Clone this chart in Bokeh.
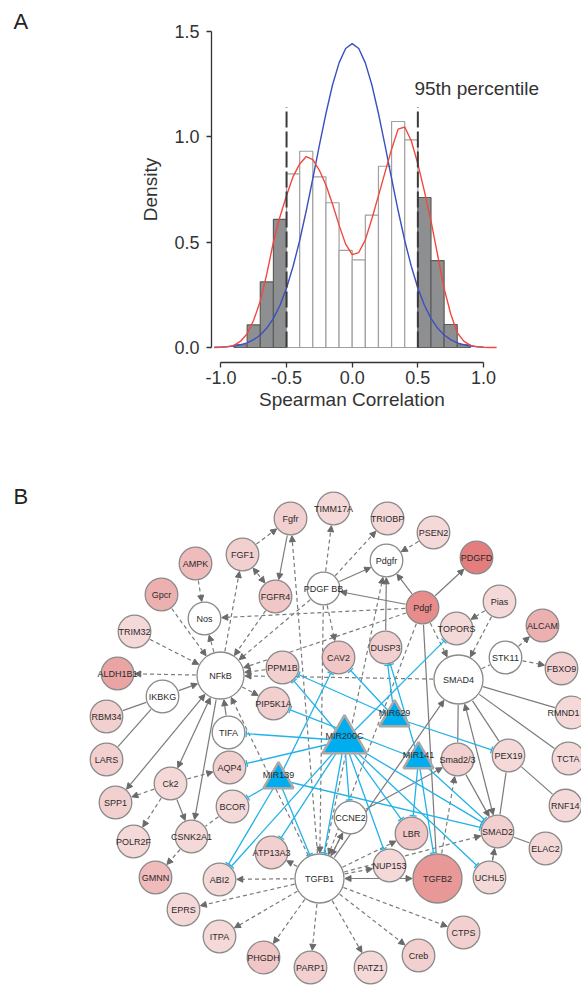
import math
from bokeh.plotting import figure
from bokeh.layouts import column
from bokeh.models import (Range1d, FixedTicker, PrintfTickFormatter, Arrow,
                          NormalHead, TeeHead, ColumnDataSource, LinearColorMapper)
from bokeh.core.properties import value
from bokeh.embed import file_html
from bokeh.resources import INLINE

FONT = "Liberation Sans"

# ---------------- Panel A data ----------------
bin_edges = [-0.9, -0.8, -0.7, -0.6, -0.5, -0.4, -0.3, -0.2, -0.1, 0.0,
             0.1, 0.2, 0.3, 0.4, 0.5, 0.6, 0.7, 0.8, 0.9]
bin_density = [0.013, 0.107, 0.311, 0.607, 0.823, 0.930, 0.809, 0.686, 0.460,
               0.415, 0.627, 0.859, 1.071, 0.984, 0.711, 0.412, 0.109, 0.013]
cutoffs = [-0.5, 0.5]
cutoff_top = 1.14

normal_x = [-1.05, -1.0, -0.95, -0.9, -0.85, -0.8, -0.75, -0.7, -0.65, -0.6, -0.55,
            -0.5, -0.45, -0.4, -0.35, -0.3, -0.25, -0.2, -0.15, -0.1, -0.05, 0.0,
            0.05, 0.1, 0.15, 0.2, 0.25, 0.3, 0.35, 0.4, 0.45, 0.5, 0.55, 0.6, 0.65,
            0.7, 0.75, 0.8, 0.85, 0.9, 0.95, 1.0]
normal_y = [0.001, 0.002, 0.004, 0.007, 0.013, 0.022, 0.037, 0.059, 0.092, 0.138, 0.200,
            0.282, 0.385, 0.507, 0.648, 0.801, 0.958, 1.109, 1.244, 1.349, 1.417, 1.440,
            1.417, 1.349, 1.244, 1.109, 0.958, 0.801, 0.648, 0.507, 0.385, 0.282, 0.200,
            0.138, 0.092, 0.059, 0.037, 0.022, 0.013, 0.007, 0.004, 0.002]

kde_x = [-1.05, -1.0, -0.95, -0.9, -0.85, -0.8, -0.75, -0.7, -0.65, -0.6, -0.55,
         -0.5, -0.45, -0.4, -0.35, -0.3, -0.25, -0.2, -0.15, -0.1, -0.05, 0.0,
         0.05, 0.1, 0.15, 0.2, 0.25, 0.3, 0.35, 0.4, 0.45, 0.5, 0.55, 0.6, 0.65,
         0.7, 0.75, 0.8, 0.85, 0.9, 0.95, 1.0, 1.05, 1.1]
kde_y = [0.0, 0.001, 0.003, 0.010, 0.030, 0.065, 0.130, 0.220, 0.350, 0.500, 0.620,
         0.720, 0.810, 0.870, 0.905, 0.890, 0.840, 0.770, 0.680, 0.580, 0.490, 0.440,
         0.450, 0.510, 0.610, 0.720, 0.830, 0.940, 1.035, 1.045, 0.980, 0.870, 0.740,
         0.600, 0.440, 0.280, 0.160, 0.070, 0.030, 0.010, 0.003, 0.001, 0.0, 0.0]

x_ticks = [-1.0, -0.5, 0.0, 0.5, 1.0]
y_ticks = [0.0, 0.5, 1.0, 1.5]

# ---------------- Panel B data (network) ----------------
node_names = ["Fgfr", "TIMM17A", "TRIOBP", "PSEN2", "PDGFD", "FGF1", "AMPK", "Pdgfr",
              "PDGF BB", "FGFR4", "Gpcr", "Pdgf", "Pias", "Nos", "TRIM32", "TOPORS",
              "ALCAM", "CAV2", "DUSP3", "STK11", "FBXO9", "PPM1B", "NFkB", "ALDH1B1",
              "SMAD4", "IKBKG", "PIP5K1A", "RMND1", "RBM34", "TIFA", "LARS", "Smad2/3",
              "PEX19", "TCTA", "AQP4", "Ck2", "SPP1", "BCOR", "RNF14", "CCNE2", "SMAD2",
              "LBR", "CSNK2A1", "POLR2F", "ELAC2", "ATP13A3", "NUP153", "GMNN", "ABI2",
              "TGFB1", "TGFB2", "UCHL5", "EPRS", "CTPS", "ITPA", "Creb", "PHGDH",
              "PATZ1", "PARP1"]
# layout positions of the graph (pixel-like layout units)
node_x = [290, 333, 387, 433, 476, 242, 195, 386, 323, 275, 161, 422, 499, 204, 134,
          456, 542, 338, 385, 505, 561, 282, 220, 117, 458, 162, 273, 571, 106, 228,
          106, 457, 508, 568, 229, 170, 115, 232, 565, 350, 497, 411, 191, 133, 545,
          271, 389, 155, 219, 319, 437, 489, 183, 463, 219, 418, 263, 370, 310]
node_y = [518, 508, 518, 532, 557, 554, 563, 560, 588, 596, 594, 607, 601, 618, 631,
          628, 625, 657, 647, 657, 668, 667, 675, 673, 679, 696, 703, 712, 716, 732,
          759, 759, 755, 758, 767, 783, 802, 806, 805, 817, 831, 833, 836, 841, 848,
          852, 865, 877, 879, 878, 878, 877, 909, 932, 936, 955, 957, 967, 967]
# correlation strength (None = no value, drawn white)
node_value = [0.35, 0.2, 0.25, 0.2, 0.95, 0.3, 0.5, None,
              None, 0.38, 0.55, 0.85, 0.2, None, 0.25, 0.25,
              0.55, 0.4, 0.3, None, 0.3, 0.35, None, 0.65,
              None, None, 0.3, 0.25, 0.3, None, 0.3, 0.3,
              0.25, 0.25, 0.3, 0.2, 0.3, 0.25, 0.25, None, 0.35,
              0.45, 0.25, 0.2, 0.25, 0.3, 0.2, 0.5, 0.2,
              None, 0.75, 0.2, 0.25, 0.3, 0.2, 0.3, 0.45,
              0.2, 0.35]
hub_nodes = ["NFkB", "SMAD4", "TGFB1", "TGFB2"]

mir_names = ["MIR200C", "MIR629", "MIR141", "MIR139"]
mir_x = [344, 394, 418, 278]
mir_y = [740, 717, 759, 779]

solid_arrow = [("Fgfr", "FGFR4"), ("PDGF BB", "Pdgfr"), ("Pdgf", "Pdgfr"), ("Pdgf", "PDGFD"),
               ("Pdgf", "PDGF BB"), ("DUSP3", "Pdgfr"), ("IKBKG", "NFkB"), ("TIFA", "NFkB"),
               ("NFkB", "CSNK2A1"), ("Ck2", "CSNK2A1"), ("TGFB1", "SMAD4"),
               ("CCNE2", "Smad2/3"), ("Smad2/3", "SMAD2"), ("CCNE2", "TGFB1")]
solid_both = [("NFkB", "SPP1"), ("NFkB", "Ck2"), ("TGFB1", "TGFB2"), ("SMAD4", "SMAD2")]
solid_plain = [("IKBKG", "RBM34"), ("IKBKG", "LARS"), ("SMAD4", "RMND1"), ("SMAD4", "TCTA"),
               ("SMAD4", "PEX19"), ("PEX19", "RNF14"), ("SMAD2", "ELAC2"), ("SMAD2", "UCHL5"),
               ("SMAD4", "Smad2/3"), ("PEX19", "SMAD2"), ("Pdgf", "TGFB2")]
dashed_arrow = [("FGF1", "Fgfr"), ("TGFB1", "Fgfr"), ("PDGF BB", "TIMM17A"), ("PDGF BB", "TRIOBP"),
                ("PSEN2", "Pdgfr"), ("TGFB1", "Pdgfr"), ("Pdgf", "Nos"), ("Pdgf", "NFkB"),
                ("PDGF BB", "NFkB"), ("FGFR4", "NFkB"), ("NFkB", "FGF1"), ("AMPK", "Nos"),
                ("Gpcr", "NFkB"), ("TRIM32", "NFkB"), ("NFkB", "ALDH1B1"), ("NFkB", "Nos"),
                ("PPM1B", "NFkB"), ("SMAD4", "NFkB"), ("NFkB", "PIP5K1A"), ("TGFB1", "NFkB"),
                ("PDGF BB", "CAV2"), ("Pdgf", "SMAD4"), ("Pias", "TOPORS"), ("Pias", "SMAD4"),
                ("STK11", "ALCAM"), ("STK11", "FBXO9"), ("Ck2", "SPP1"), ("Ck2", "POLR2F"),
                ("Ck2", "AQP4"), ("CSNK2A1", "GMNN"), ("TGFB1", "ATP13A3"), ("TGFB1", "ABI2"),
                ("TGFB1", "EPRS"), ("TGFB1", "ITPA"), ("TGFB1", "PHGDH"), ("TGFB1", "PARP1"),
                ("TGFB1", "PATZ1"), ("TGFB1", "Creb"), ("TGFB1", "CTPS"), ("TGFB1", "LBR"),
                ("TGFB1", "NUP153"), ("TGFB1", "SMAD2"), ("TGFB1", "CCNE2"), ("UCHL5", "SMAD2"),
                ("TGFB2", "Smad2/3"), ("Pdgf", "TGFB1"), ("PDGF BB", "TGFB1")]
dashed_both = [("FGF1", "FGFR4")]
dashed_plain = [("SMAD4", "STK11"), ("BCOR", "CSNK2A1")]
inhibit = [("MIR200C", "TIFA"), ("MIR200C", "AQP4"), ("MIR200C", "PPM1B"), ("MIR200C", "TOPORS"),
           ("MIR200C", "CCNE2"), ("MIR200C", "LBR"), ("MIR200C", "NUP153"), ("MIR200C", "SMAD2"),
           ("MIR200C", "UCHL5"), ("MIR200C", "ABI2"), ("MIR200C", "ATP13A3"), ("MIR200C", "TGFB1"),
           ("MIR139", "BCOR"), ("MIR139", "ABI2"), ("MIR139", "TGFB1"), ("MIR139", "CAV2"),
           ("MIR139", "SMAD2"), ("MIR629", "DUSP3"), ("MIR629", "PPM1B"), ("MIR629", "CAV2"),
           ("MIR629", "PEX19"), ("MIR141", "DUSP3"), ("MIR141", "LBR"), ("MIR141", "TGFB2"),
           ("MIR141", "SMAD2"), ("MIR141", "PIP5K1A")]

# ---------------- Panel A ----------------
TXT = "#333333"
W = 581
HA = 428
HB = 986 - HA
# pixel calibration of panel A: x value 0 at 351.7 px, 131.3 px/unit; y value 0 at 347 px, 211 px/unit
X0, XS, Y0, YS = 351.7, 131.3, 347.0, 211.0
pA = figure(width=W, height=HA, output_backend="svg", toolbar_location=None,
            x_range=Range1d(-X0 / XS, (W - X0) / XS),
            y_range=Range1d((Y0 - HA) / YS, Y0 / YS), min_border=0)
pA.grid.visible = False
pA.outline_line_color = None
pA.background_fill_color = "white"
pA.border_fill_color = "white"

lefts = bin_edges[:-1]
rights = bin_edges[1:]
tail = [(r <= cutoffs[0] + 1e-9) or (l >= cutoffs[1] - 1e-9) for l, r in zip(lefts, rights)]
fills = ["#8e8f91" if t else "white" for t in tail]
lines = ["#5c5c5c" if t else "#a0a0a0" for t in tail]
pA.quad(left=lefts, right=rights, top=bin_density, bottom=0, fill_color=fills,
        line_color=lines, line_width=1.2)
pA.line(normal_x, normal_y, line_color="#3b50c0", line_width=1.4)
pA.line(kde_x, kde_y, line_color="#f2483d", line_width=1.4)
pA.segment(x0=cutoffs, y0=[0, 0], x1=cutoffs, y1=[cutoff_top] * 2, line_color="#3a3a3a",
           line_width=2, line_dash="16 4")
pA.text(x=[0.474], y=[1.227], text=["95th percentile"], text_font=value(FONT),
        text_font_size="19px", text_color=TXT, text_baseline="middle", text_align="left")
pA.text(x=[(13 - X0) / XS], y=[(Y0 - 21) / YS], text=["A"], text_font=value(FONT),
        text_font_size="22px", text_color="#222222", text_baseline="middle", text_align="left")

axis_pos_x = (362 - Y0) / -YS      # x-axis line drawn at 362 px
axis_pos_y = (211 - X0) / XS       # y-axis line drawn at 211 px
for ax, ticks, lab, st, lst, loc in ((pA.xaxis[0], x_ticks, "Spearman Correlation", 3, 2, axis_pos_x),
                                     (pA.yaxis[0], y_ticks, "Density", 7, 10, axis_pos_y)):
    ax.fixed_location = loc
    ax.ticker = FixedTicker(ticks=ticks)
    ax.formatter = PrintfTickFormatter(format="%.1f")
    ax.bounds = (ticks[0], ticks[-1])
    ax.axis_label = lab
    ax.axis_label_text_font = FONT
    ax.axis_label_text_font_size = "19px"
    ax.axis_label_text_font_style = "normal"
    ax.axis_label_text_color = TXT
    ax.axis_label_standoff = lst
    ax.major_label_text_font = FONT
    ax.major_label_text_font_size = "18px"
    ax.major_label_text_color = TXT
    ax.major_label_standoff = st
    ax.minor_tick_line_color = None
    ax.major_tick_in = 0
    ax.major_tick_out = 5
    ax.major_tick_line_color = "#333333"
    ax.major_tick_line_width = 1.3
    ax.axis_line_color = "#333333"
    ax.axis_line_width = 1.3

# ---------------- Panel B ----------------
pB = figure(width=W, height=HB, output_backend="svg", toolbar_location=None,
            x_range=Range1d(0, W), y_range=Range1d(986, HA),
            x_axis_type=None, y_axis_type=None, min_border=0)
pB.grid.visible = False
pB.outline_line_color = None
pB.background_fill_color = "white"
pB.border_fill_color = "white"

pos = {n: (x, y) for n, x, y in zip(node_names, node_x, node_y)}
rad = {n: (24.5 if n in hub_nodes else 16.3) for n in node_names}
rad["NFkB"] = 23.5
for n, x, y in zip(mir_names, mir_x, mir_y):
    pos[n] = (x, y)
    rad[n] = 0.0


def segs(edges, pad=1.0):
    d = dict(x_start=[], y_start=[], x_end=[], y_end=[])
    for a, b in edges:
        (x0, y0), (x1, y1) = pos[a], pos[b]
        dx, dy = x1 - x0, y1 - y0
        L = math.hypot(dx, dy)
        ux, uy = dx / L, dy / L
        r0 = rad[a] + (pad if rad[a] > 0 else 0)
        r1 = rad[b] + pad
        d["x_start"].append(x0 + ux * r0)
        d["y_start"].append(y0 + uy * r0)
        d["x_end"].append(x1 - ux * r1)
        d["y_end"].append(y1 - uy * r1)
    return ColumnDataSource(d)


GRAY = "#7b7b7b"
BLUE = "#22b2e8"


def head():
    return NormalHead(size=6, fill_color="#6a6a6a", line_color="#6a6a6a", line_width=1)


for edges, dash, start, end in ((solid_arrow, "solid", False, True),
                                (solid_both, "solid", True, True),
                                (solid_plain, "solid", False, False),
                                (dashed_arrow, "4 3", False, True),
                                (dashed_both, "4 3", True, True),
                                (dashed_plain, "4 3", False, False)):
    pB.add_layout(Arrow(source=segs(edges), line_color=GRAY, line_width=1.2, line_dash=dash,
                        start=head() if start else None, end=head() if end else None,
                        level="underlay"))

pB.add_layout(Arrow(source=segs(inhibit, pad=1.5), line_color=BLUE, line_width=1.3,
                    start=None, end=TeeHead(size=7, line_color=BLUE, line_width=1.3),
                    level="underlay"))

palette = ["#f7e1e1", "#f5d9d9", "#f3d0d0", "#f1c6c6", "#efbbbb",
           "#edb0b0", "#eba4a4", "#e99898", "#e78b8b", "#e47d7d"]
mapper = LinearColorMapper(palette=palette, low=0.1, high=1.0, nan_color="white")

# keep labels of nodes at the right edge inside the picture
lab_x, lab_align = [], []
for n, x in zip(node_names, node_x):
    half = len(n) * 2.9
    if x + half > W - 2:
        lab_x.append(W - 2)
        lab_align.append("right")
    else:
        lab_x.append(x)
        lab_align.append("center")

nsrc = ColumnDataSource(dict(
    x=node_x, y=node_y, name=node_names, lx=lab_x, la=lab_align,
    v=[float("nan") if v is None else v for v in node_value],
    size=[2 * rad[n] for n in node_names]))
pB.scatter("x", "y", source=nsrc, size="size", marker="circle",
           fill_color={"field": "v", "transform": mapper}, line_color="#8a8a8a", line_width=1.3)
pB.text("lx", "y", text="name", source=nsrc, text_font=value(FONT), text_font_size="9px",
        text_color="#2a2a2a", text_align="la", text_baseline="middle")

msrc = ColumnDataSource(dict(x=mir_x, y=mir_y, name=mir_names,
                             ly=[y - 5 for y in mir_y],
                             size=[44 if n == "MIR200C" else 30 for n in mir_names]))
pB.scatter("x", "y", source=msrc, size="size", marker="triangle", fill_color="#00aeef",
           line_color="#a8a8a8", line_width=2.5)
pB.text("x", "ly", text="name", source=msrc, text_font=value(FONT), text_font_size="9px",
        text_color="#2a2a2a", text_align="center", text_baseline="middle")

pB.text(x=[13], y=[496], text=["B"], text_font=value(FONT), text_font_size="22px",
        text_color="#222222", text_align="left", text_baseline="middle")

layout = column(pA, pB, spacing=0)
open("out.html", "w").write(file_html(layout, INLINE))
